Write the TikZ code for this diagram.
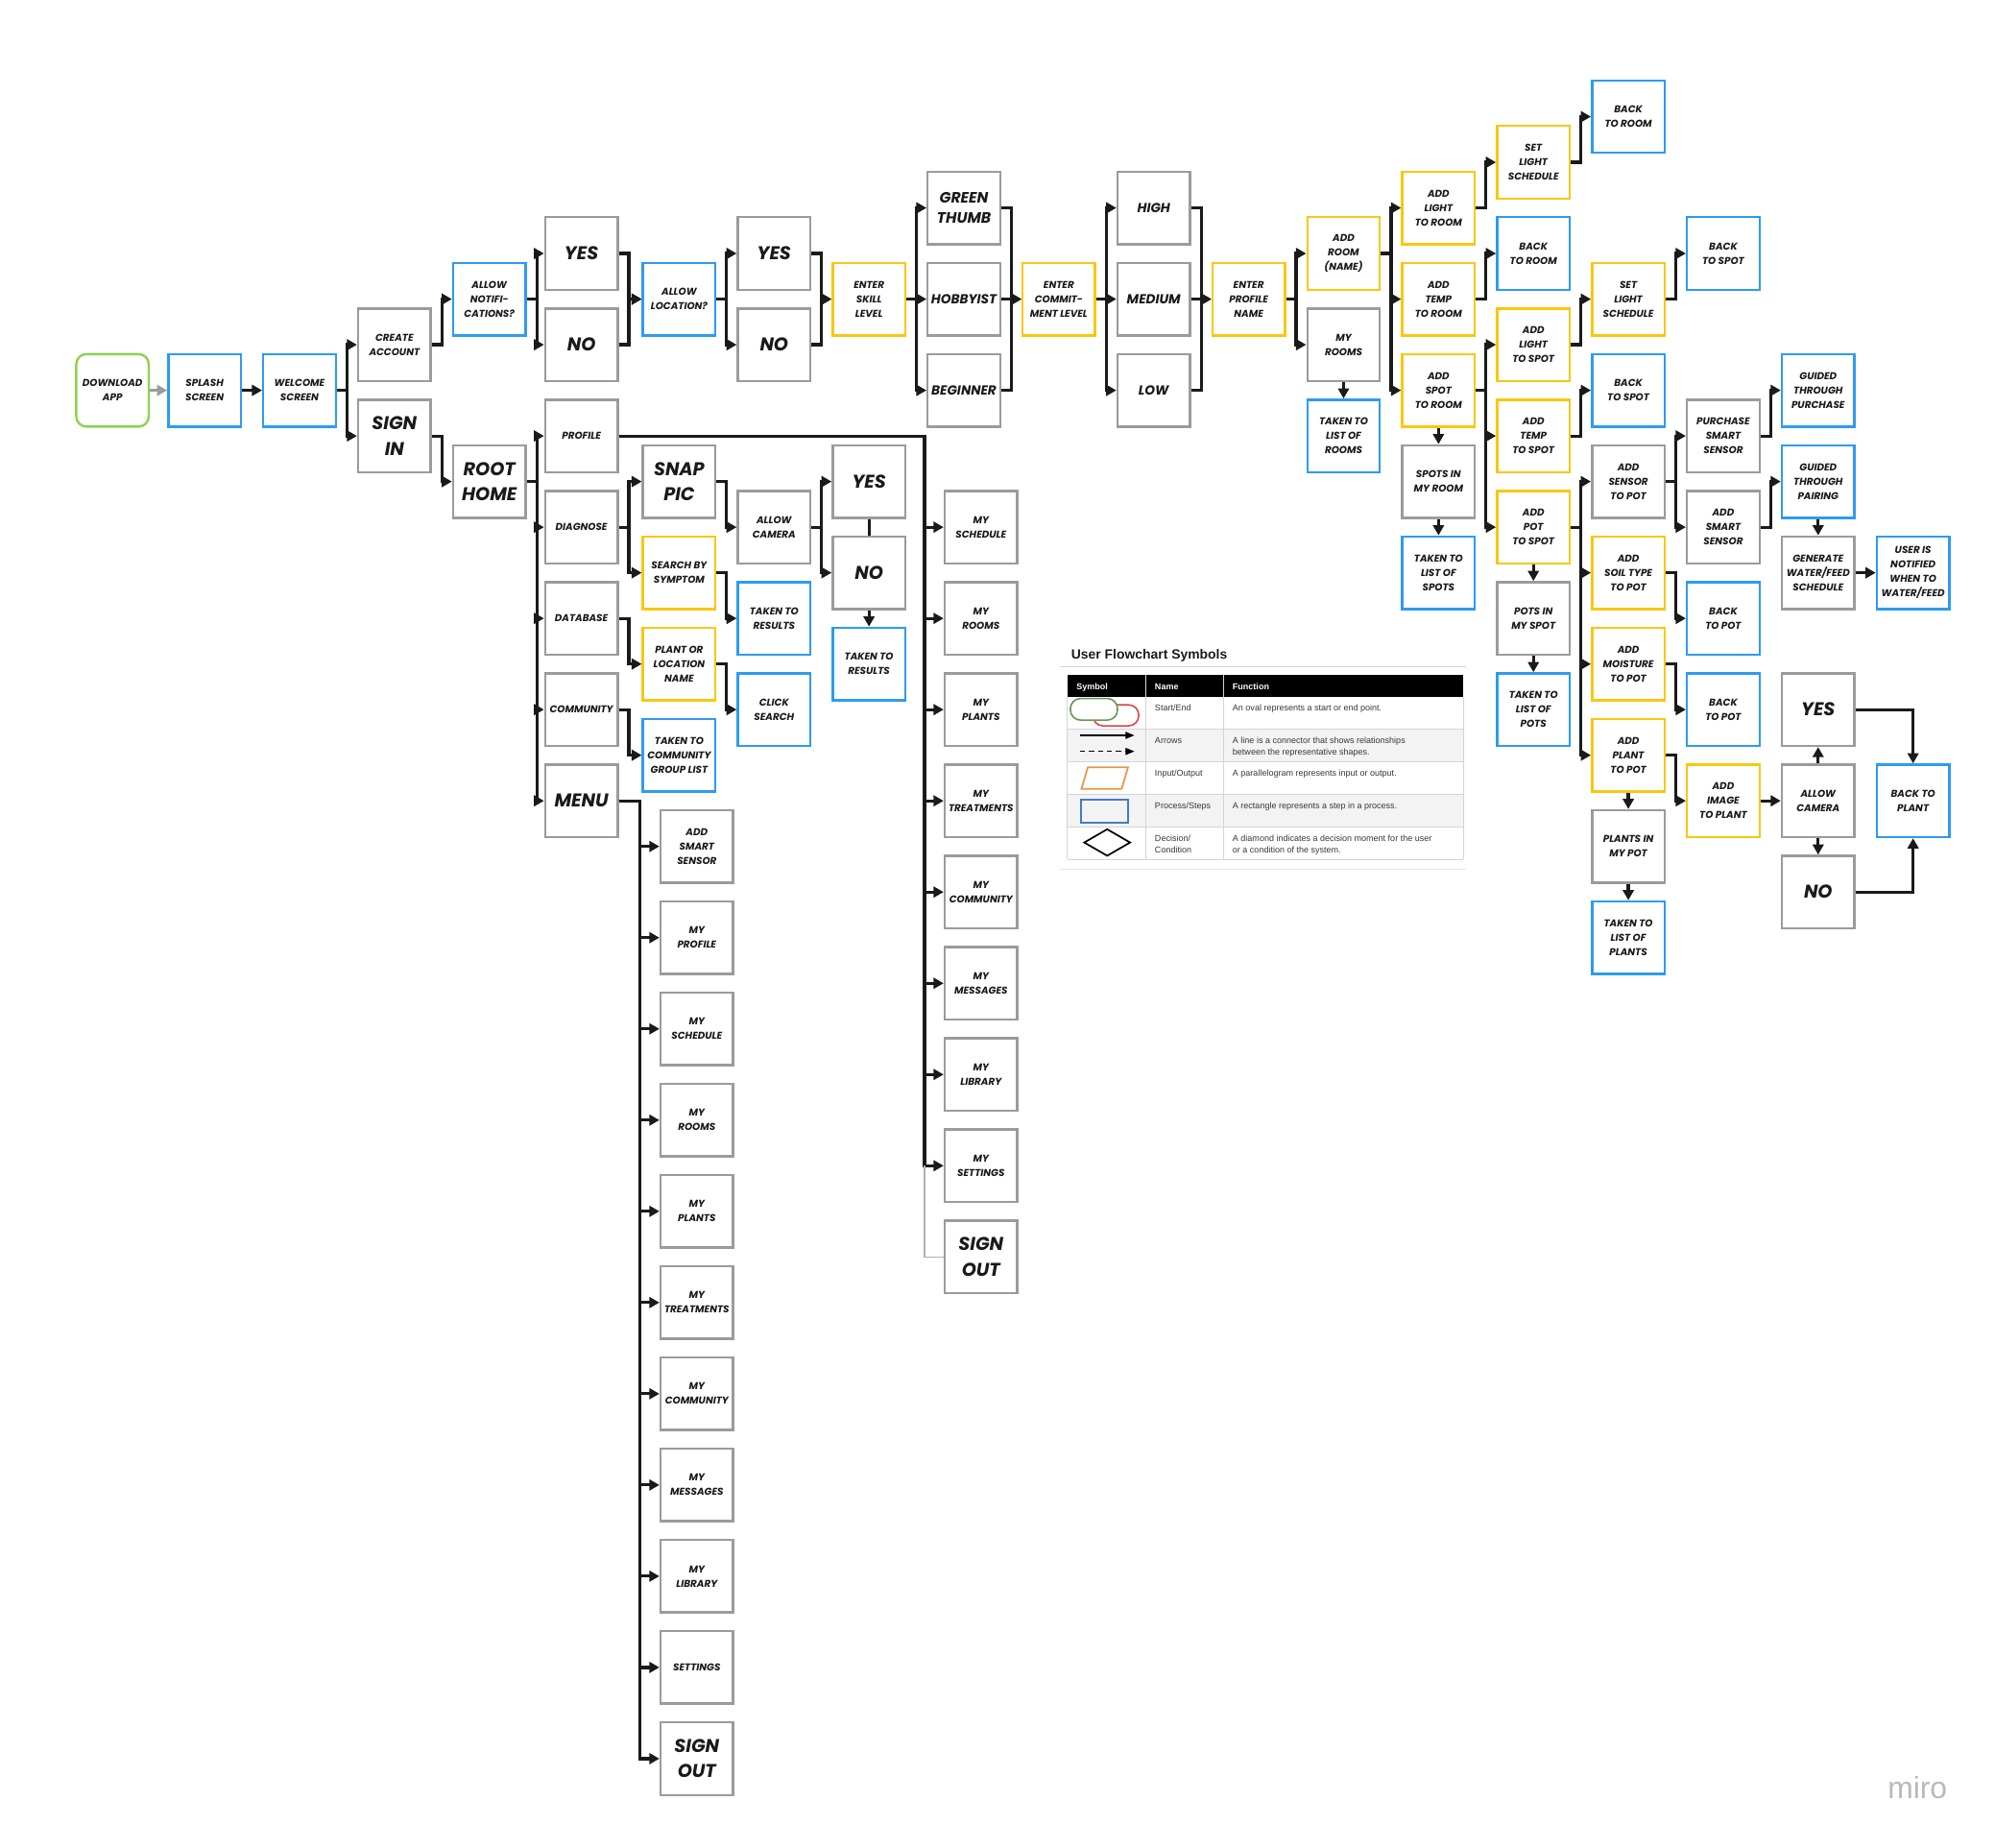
\documentclass[tikz,border=0pt]{standalone}
\usepackage{fontspec}
\setmainfont{Liberation Sans}
\newfontfamily\mk{Poppins}
\usetikzlibrary{arrows.meta,calc}
\definecolor{bgray}{RGB}{155,155,155}
\definecolor{bblue}{RGB}{45,155,240}
\definecolor{byel}{RGB}{250,199,16}
\definecolor{bgreen}{RGB}{143,209,79}
\definecolor{ink}{RGB}{26,26,26}
\definecolor{gridc}{RGB}{212,212,212}
\definecolor{rowc}{RGB}{243,243,243}
\definecolor{legtxt}{RGB}{55,55,55}
\definecolor{legred}{RGB}{220,70,70}
\definecolor{leggreen}{RGB}{105,150,85}
\definecolor{legorange}{RGB}{232,150,70}
\definecolor{legblue}{RGB}{70,120,200}
\definecolor{mirogray}{RGB}{185,185,185}
\newcommand\N[5]{\node[#1] (#2) at ({86.2+74.6*(#3)},{91.7+35.85*(#4)}) {#5};}
\tikzset{
  gbx/.style={draw=bgray, line width=1.8pt, fill=white, minimum width=57pt, minimum height=57pt,
    inner sep=0pt, align=center, text=ink, font=\mk\bfseries\itshape\fontsize{7.8}{11.3}\selectfont},
  bbx/.style={gbx, draw=bblue},
  ybx/.style={gbx, draw=byel},
  dlbx/.style={gbx, draw=bgreen, rounded corners=8pt},
  bigtxt/.style={font=\mk\bfseries\itshape\fontsize{14.5}{20}\selectfont},
  midtxt/.style={font=\mk\bfseries\itshape\fontsize{10.3}{15}\selectfont},
  gttxt/.style={font=\mk\bfseries\itshape\fontsize{11.8}{16}\selectfont},
  arr/.style={draw=ink, line width=2.4pt, -{Triangle[length=8pt,width=8.5pt]}},
  garr/.style={draw=bgray, line width=2.4pt, -{Triangle[length=8pt,width=8.5pt]}},
  seg/.style={draw=ink, line width=2.4pt},
  hd/.style={anchor=base west, text=white, font=\bfseries\fontsize{6.8}{8}\selectfont},
  lt/.style={anchor=base west, text=legtxt, font=\fontsize{6.8}{9}\selectfont, align=left}
}
\begin{document}
\begin{tikzpicture}[x=1pt,y=-1pt]
\useasboundingbox (0,0) rectangle (1568,1452);
\fill[white] (0,0) rectangle (1568,1452);

% ---------- nodes ----------
\N{dlbx}{dl}{0.03}{6}{DOWNLOAD\\APP}
\N{bbx}{sp}{1}{6}{SPLASH\\SCREEN}
\N{bbx}{wel}{2}{6}{WELCOME\\SCREEN}
\N{gbx}{ca}{3}{5}{CREATE\\ACCOUNT}
\N{gbx,bigtxt}{si}{3}{7}{SIGN\\IN}
\N{bbx}{an}{4}{4}{ALLOW\\NOTIFI-\\CATIONS?}
\N{gbx,bigtxt}{rh}{4}{8}{ROOT\\HOME}
\N{gbx,bigtxt}{y1}{4.97}{3}{YES}
\N{gbx,bigtxt}{n1}{4.97}{5}{NO}
\N{gbx}{prof}{4.97}{7}{PROFILE}
\N{gbx}{diag}{4.97}{9}{DIAGNOSE}
\N{gbx}{db}{4.97}{11}{DATABASE}
\N{gbx}{comm}{4.97}{13}{COMMUNITY}
\N{gbx,bigtxt}{menu}{4.97}{15}{MENU}
\N{bbx}{al}{6}{4}{ALLOW\\LOCATION?}
\N{gbx,bigtxt}{snap}{6}{8}{SNAP\\PIC}
\N{ybx}{sbs}{6}{10}{SEARCH BY\\SYMPTOM}
\N{ybx}{pln}{6}{12}{PLANT OR\\LOCATION\\NAME}
\N{bbx}{tcg}{6}{14}{TAKEN TO\\COMMUNITY\\GROUP LIST}
\N{gbx,bigtxt}{y2}{7}{3}{YES}
\N{gbx,bigtxt}{n2}{7}{5}{NO}
\N{gbx}{cam1}{7}{9}{ALLOW\\CAMERA}
\N{bbx}{tr1}{7}{11}{TAKEN TO\\RESULTS}
\N{bbx}{cs}{7}{13}{CLICK\\SEARCH}
\N{ybx}{esl}{8}{4}{ENTER\\SKILL\\LEVEL}
\N{gbx,bigtxt}{y3}{8}{8}{YES}
\N{gbx,bigtxt}{n3}{8}{10}{NO}
\N{bbx}{tr2}{8}{12}{TAKEN TO\\RESULTS}
\N{gbx,gttxt}{gt}{9}{2}{GREEN\\THUMB}
\N{gbx,midtxt}{hob}{9}{4}{HOBBYIST}
\N{gbx,midtxt}{beg}{9}{6}{BEGINNER}
\N{ybx}{ecl}{10}{4}{ENTER\\COMMIT-\\MENT LEVEL}
\N{gbx,midtxt}{hi}{11}{2}{HIGH}
\N{gbx,midtxt}{med}{11}{4}{MEDIUM}
\N{gbx,midtxt}{lo}{11}{6}{LOW}
\N{ybx}{epn}{12}{4}{ENTER\\PROFILE\\NAME}
\N{ybx}{ar}{13}{3}{ADD\\ROOM\\(NAME)}
\N{gbx}{mr}{13}{5}{MY\\ROOMS}
\N{bbx}{tlr}{13}{7}{TAKEN TO\\LIST OF\\ROOMS}
\N{ybx}{alr}{14}{2}{ADD\\LIGHT\\TO ROOM}
\N{ybx}{atr}{14}{4}{ADD\\TEMP\\TO ROOM}
\N{ybx}{asr}{14}{6}{ADD\\SPOT\\TO ROOM}
\N{gbx}{sir}{14}{8}{SPOTS IN\\MY ROOM}
\N{bbx}{tls}{14}{10}{TAKEN TO\\LIST OF\\SPOTS}
\N{ybx}{slsa}{15}{1}{SET\\LIGHT\\SCHEDULE}
\N{bbx}{btrb}{15}{3}{BACK\\TO ROOM}
\N{ybx}{als}{15}{5}{ADD\\LIGHT\\TO SPOT}
\N{ybx}{ats}{15}{7}{ADD\\TEMP\\TO SPOT}
\N{ybx}{aps}{15}{9}{ADD\\POT\\TO SPOT}
\N{gbx}{pis}{15}{11}{POTS IN\\MY SPOT}
\N{bbx}{tlp}{15}{13}{TAKEN TO\\LIST OF\\POTS}
\N{bbx}{btra}{16}{0}{BACK\\TO ROOM}
\N{ybx}{slsb}{16}{4}{SET\\LIGHT\\SCHEDULE}
\N{bbx}{btsb}{16}{6}{BACK\\TO SPOT}
\N{gbx}{asp}{16}{8}{ADD\\SENSOR\\TO POT}
\N{ybx}{ast}{16}{10}{ADD\\SOIL TYPE\\TO POT}
\N{ybx}{amp}{16}{12}{ADD\\MOISTURE\\TO POT}
\N{ybx}{app}{16}{14}{ADD\\PLANT\\TO POT}
\N{gbx}{pip}{16}{16}{PLANTS IN\\MY POT}
\N{bbx}{tlpl}{16}{18}{TAKEN TO\\LIST OF\\PLANTS}
\N{bbx}{btsa}{17}{3}{BACK\\TO SPOT}
\N{gbx}{pss}{17}{7}{PURCHASE\\SMART\\SENSOR}
\N{gbx}{ass}{17}{9}{ADD\\SMART\\SENSOR}
\N{bbx}{btpa}{17}{11}{BACK\\TO POT}
\N{bbx}{btpb}{17}{13}{BACK\\TO POT}
\N{ybx}{aip}{17}{15}{ADD\\IMAGE\\TO PLANT}
\N{bbx}{gtp}{18}{6}{GUIDED\\THROUGH\\PURCHASE}
\N{bbx}{gtpa}{18}{8}{GUIDED\\THROUGH\\PAIRING}
\N{gbx}{gen}{18}{10}{GENERATE\\WATER/FEED\\SCHEDULE}
\N{gbx,bigtxt}{y4}{18}{13}{YES}
\N{gbx}{cam2}{18}{15}{ALLOW\\CAMERA}
\N{gbx,bigtxt}{n4}{18}{17}{NO}
\N{bbx}{un}{19}{10}{USER IS\\NOTIFIED\\WHEN TO\\WATER/FEED}
\N{bbx}{btpl}{19}{15}{BACK TO\\PLANT}
% menu items
\N{gbx}{ma}{6.186}{16}{ADD\\SMART\\SENSOR}
\N{gbx}{mb}{6.186}{18}{MY\\PROFILE}
\N{gbx}{mc}{6.186}{20}{MY\\SCHEDULE}
\N{gbx}{md}{6.186}{22}{MY\\ROOMS}
\N{gbx}{me}{6.186}{24}{MY\\PLANTS}
\N{gbx}{mf}{6.186}{26}{MY\\TREATMENTS}
\N{gbx}{mg}{6.186}{28}{MY\\COMMUNITY}
\N{gbx}{mh}{6.186}{30}{MY\\MESSAGES}
\N{gbx}{mi}{6.186}{32}{MY\\LIBRARY}
\N{gbx}{mj}{6.186}{34}{SETTINGS}
\N{gbx,bigtxt}{mk}{6.186}{36}{SIGN\\OUT}
% profile items
\N{gbx}{pa}{9.18}{9}{MY\\SCHEDULE}
\N{gbx}{pb}{9.18}{11}{MY\\ROOMS}
\N{gbx}{pc}{9.18}{13}{MY\\PLANTS}
\N{gbx}{pd}{9.18}{15}{MY\\TREATMENTS}
\N{gbx}{pe}{9.18}{17}{MY\\COMMUNITY}
\N{gbx}{pf}{9.18}{19}{MY\\MESSAGES}
\N{gbx}{pg}{9.18}{21}{MY\\LIBRARY}
\N{gbx}{ph}{9.18}{23}{MY\\SETTINGS}
\N{gbx,bigtxt}{pso}{9.18}{25}{SIGN\\OUT}

\coordinate (mbx) at (503,0);
\coordinate (pbx) at (726.6,0);

% ---------- connectors ----------
\draw[garr] (dl.east) -- (sp.west);
\draw[arr] (sp.east) -- (wel.west);
\foreach \t in {ca,si} \draw[arr] (wel.east) -- ++(7.9,0) |- (\t.west);
\draw[arr] (ca.east) -- ++(7.9,0) |- (an.west);
\draw[arr] (si.east) -- ++(7.9,0) |- (rh.west);
\foreach \t in {y1,n1} \draw[arr] (an.east) -- ++(7.9,0) |- (\t.west);
\foreach \s in {y1,n1} \draw[arr] (\s.east) -- ++(7.9,0) |- (al.west);
\foreach \t in {y2,n2} \draw[arr] (al.east) -- ++(7.9,0) |- (\t.west);
\foreach \s in {y2,n2} \draw[arr] (\s.east) -- ++(7.9,0) |- (esl.west);
\foreach \t in {gt,hob,beg} \draw[arr] (esl.east) -- ++(7.9,0) |- (\t.west);
\foreach \s in {gt,hob,beg} \draw[arr] (\s.east) -- ++(7.9,0) |- (ecl.west);
\foreach \t in {hi,med,lo} \draw[arr] (ecl.east) -- ++(7.9,0) |- (\t.west);
\foreach \s in {hi,med,lo} \draw[arr] (\s.east) -- ++(7.9,0) |- (epn.west);
\foreach \t in {ar,mr} \draw[arr] (epn.east) -- ++(7.9,0) |- (\t.west);
\draw[arr] (mr.south) -- (tlr.north);
\foreach \t in {alr,atr,asr} \draw[arr] (ar.east) -- ++(7.9,0) |- (\t.west);
\draw[arr] (alr.east) -- ++(7.9,0) |- (slsa.west);
\draw[arr] (slsa.east) -- ++(7.9,0) |- (btra.west);
\draw[arr] (atr.east) -- ++(7.9,0) |- (btrb.west);
\foreach \t in {als,ats,aps} \draw[arr] (asr.east) -- ++(7.9,0) |- (\t.west);
\draw[arr] (asr.south) -- (sir.north);
\draw[arr] (sir.south) -- (tls.north);
\draw[arr] (als.east) -- ++(7.9,0) |- (slsb.west);
\draw[arr] (slsb.east) -- ++(7.9,0) |- (btsa.west);
\draw[arr] (ats.east) -- ++(7.9,0) |- (btsb.west);
\foreach \t in {asp,ast,amp,app} \draw[arr] (aps.east) -- ++(7.9,0) |- (\t.west);
\draw[arr] (aps.south) -- (pis.north);
\draw[arr] (pis.south) -- (tlp.north);
\foreach \t in {pss,ass} \draw[arr] (asp.east) -- ++(7.9,0) |- (\t.west);
\draw[arr] (pss.east) -- ++(7.9,0) |- (gtp.west);
\draw[arr] (ass.east) -- ++(7.9,0) |- (gtpa.west);
\draw[arr] (gtpa.south) -- (gen.north);
\draw[arr] (gen.east) -- (un.west);
\draw[arr] (ast.east) -- ++(7.9,0) |- (btpa.west);
\draw[arr] (amp.east) -- ++(7.9,0) |- (btpb.west);
\draw[arr] (app.east) -- ++(7.9,0) |- (aip.west);
\draw[arr] (app.south) -- (pip.north);
\draw[arr] (pip.south) -- (tlpl.north);
\draw[arr] (aip.east) -- (cam2.west);
\draw[arr] (cam2.north) -- (y4.south);
\draw[arr] (cam2.south) -- (n4.north);
\draw[arr] (y4.east) -| (btpl.north);
\draw[arr] (n4.east) -| (btpl.south);
% lower left
\foreach \t in {prof,diag,db,comm,menu} \draw[arr] (rh.east) -- ++(7.9,0) |- (\t.west);
\foreach \t in {snap,sbs} \draw[arr] (diag.east) -- ++(7.9,0) |- (\t.west);
\draw[arr] (snap.east) -- ++(7.9,0) |- (cam1.west);
\draw[arr] (sbs.east) -- ++(7.9,0) |- (tr1.west);
\draw[arr] (db.east) -- ++(7.9,0) |- (pln.west);
\draw[arr] (pln.east) -- ++(7.9,0) |- (cs.west);
\draw[arr] (comm.east) -- ++(7.9,0) |- (tcg.west);
\foreach \t in {y3,n3} \draw[arr] (cam1.east) -- ++(7.9,0) |- (\t.west);
\draw[seg] (y3.south) -- (n3.north);
\draw[arr] (n3.south) -- (tr2.north);
\foreach \t in {ma,mb,mc,md,me,mf,mg,mh,mi,mj,mk}
  \draw[arr] (menu.east) -- (menu.east -| mbx) |- (\t.west);
\foreach \t in {pa,pb,pc,pd,pe,pf,pg,ph}
  \draw[arr] (prof.east) -- (prof.east -| pbx) |- (\t.west);
\draw[draw=bgray!80, line width=1pt] (ph.west -| pbx) |- (pso.west);

% ---------- legend ----------
\node[anchor=base west, text=ink, font=\bfseries\fontsize{10.5}{12}\selectfont] (lgt) at (838.5,518) {User Flowchart Symbols};
\draw[draw=gridc, line width=0.9pt] (833,524) -- (1152,524);
\draw[draw=gridc!60, line width=0.9pt] (833,683) -- (1152,683);
\fill[black] (838.8,530.2) rectangle (1150,547.6);
\fill[rowc] (838.8,573) rectangle (1150,598.6);
\fill[rowc] (838.8,624.3) rectangle (1150,649.9);
\foreach \yy in {573,598.6,624.3,649.9,675.6} \draw[draw=gridc, line width=0.7pt] (838.8,\yy) -- (1150,\yy);
\foreach \xx in {838.8,900.4,961.5,1150} \draw[draw=gridc, line width=0.7pt] (\xx,547.6) -- (\xx,675.6);
\draw[draw=gridc, line width=0.7pt] (900.4,530.2) -- (900.4,547.6) (961.5,530.2) -- (961.5,547.6);
\node[hd] (h1) at (842.6,542.3) {Symbol};
\node[hd] (h2) at (904.2,542.3) {Name};
\node[hd] (h3) at (965.3,542.3) {Function};
\node[lt] (n1t) at (904.2,559) {Start/End};
\node[lt] (f1t) at (965.3,559) {An oval represents a start or end point.};
\node[lt] (n2t) at (904.2,584.4) {Arrows};
\node[lt] (f2t) at (965.3,584.4) {A line is a connector that shows relationships};
\node[lt] (f2u) at (965.3,593.4) {between the representative shapes.};
\node[lt] (n3t) at (904.2,610) {Input/Output};
\node[lt] (f3t) at (965.3,610) {A parallelogram represents input or output.};
\node[lt] (n4t) at (904.2,635.7) {Process/Steps};
\node[lt] (f4t) at (965.3,635.7) {A rectangle represents a step in a process.};
\node[lt] (n5t) at (904.2,661.3) {Decision/};
\node[lt] (n5u) at (904.2,670.3) {Condition};
\node[lt] (f5t) at (965.3,661.3) {A diamond indicates a decision moment for the user};
\node[lt] (f5u) at (965.3,670.3) {or a condition of the system.};
% symbols
\draw[draw=legred, line width=1.2pt, rounded corners=8pt] (859,554) rectangle (895,570.5);
\draw[draw=leggreen, fill=white, line width=1.2pt, rounded corners=8pt] (841.3,549) rectangle (878.3,566);
\draw[line width=1pt, -{Triangle[length=7pt,width=5.5pt]}] (849,578) -- (891.6,578);
\draw[line width=1pt, dash pattern=on 4pt off 3pt, -{Triangle[length=7pt,width=5.5pt]}] (849,590.6) -- (891.6,590.6);
\draw[draw=legorange, line width=1.3pt] (850,620) -- (855,603) -- (886.6,603) -- (881.6,620) -- cycle;
\draw[draw=legblue, line width=1.3pt] (849.7,628.8) rectangle (886.6,646.4);
\draw[line width=1.3pt] (852.2,662.2) -- (870.2,651.8) -- (888.2,662.2) -- (870.2,672.6) -- cycle;

\node[anchor=base, text=mirogray, font=\fontsize{24}{24}\selectfont] (miro) at (1507,1414) {miro};
\end{tikzpicture}
\end{document}
